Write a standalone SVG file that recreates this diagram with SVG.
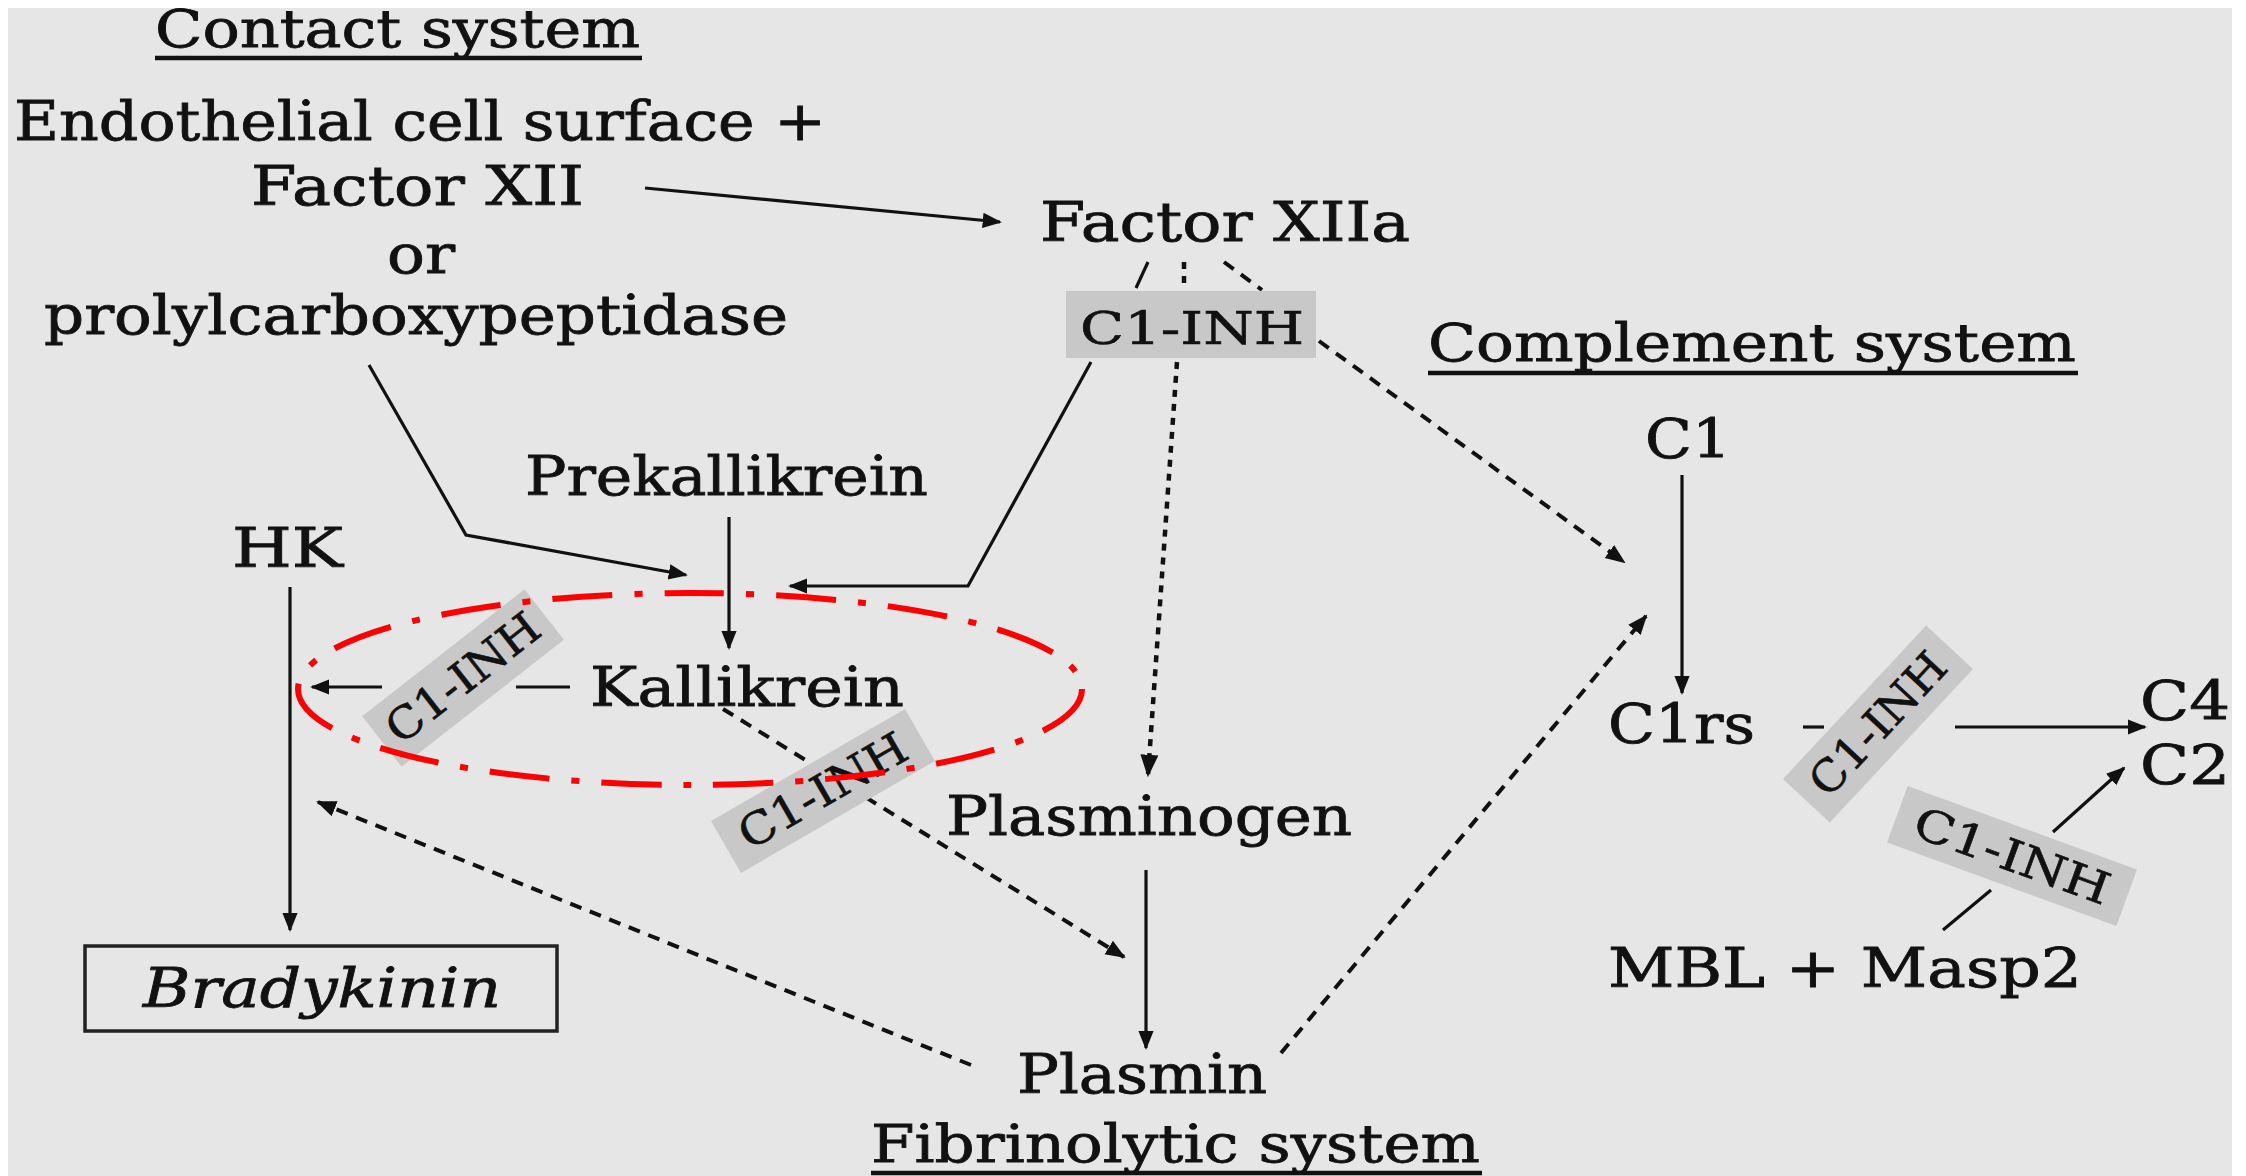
<svg xmlns="http://www.w3.org/2000/svg" width="2246" height="1176" viewBox="0 0 2246 1176">
<style>
.t{font-family:"DejaVu Serif","Liberation Serif",serif;font-size:54px;fill:#111;stroke:#111;stroke-width:0.8}
.h{font-family:"DejaVu Serif","Liberation Serif",serif;font-size:52px;fill:#111;stroke:#111;stroke-width:0.8}
.inh{font-family:"DejaVu Serif","Liberation Serif",serif;font-size:44px;fill:#111;stroke:#111;stroke-width:0.6}
.box{fill:#c8c8c8}
.s{stroke:#111;stroke-width:3.2;fill:none}
.d{stroke:#111;stroke-width:4;fill:none;stroke-dasharray:12 9}
.o{stroke:#111;stroke-width:4.5;fill:none;stroke-dasharray:7 7}
.ul{stroke:#111;stroke-width:4.5}
</style>
<defs>
<marker id="ah" viewBox="0 0 10 10" refX="9" refY="5" markerWidth="6" markerHeight="6" markerUnits="strokeWidth" orient="auto">
<path d="M0,1 L10,5 L0,9 z" fill="#111"/>
</marker>
<marker id="ahd" viewBox="0 0 10 10" refX="9" refY="5" markerWidth="5" markerHeight="5" markerUnits="strokeWidth" orient="auto">
<path d="M0,1 L10,5 L0,9 z" fill="#111"/>
</marker>
</defs>
<rect x="0" y="0" width="2246" height="1176" fill="#ffffff"/>
<rect x="8" y="8" width="2224" height="1168" fill="#e6e6e6"/>

<g id="connectors">
<line class="s" x1="645" y1="188" x2="1000" y2="222" marker-end="url(#ah)"/>
<polyline class="s" points="369,365 466,535 686,575" marker-end="url(#ah)"/>
<polyline class="s" points="1091,362 968,586 790,586" marker-end="url(#ah)"/>
<line class="s" x1="729" y1="517" x2="729" y2="648" marker-end="url(#ah)"/>
<line class="s" x1="290" y1="587" x2="290" y2="930" marker-end="url(#ah)"/>
<line class="s" x1="516" y1="687" x2="570" y2="687"/>
<line class="s" x1="382" y1="687" x2="312" y2="687" marker-end="url(#ah)"/>
<line class="d" x1="723" y1="709" x2="1124" y2="957" marker-end="url(#ahd)"/>
<line class="s" x1="1148" y1="262" x2="1136" y2="288"/>
<line class="o" x1="1184" y1="262" x2="1184" y2="290"/>
<line class="d" x1="1224" y1="262" x2="1262" y2="290"/>
<line class="o" x1="1177" y1="362" x2="1148" y2="775" marker-end="url(#ahd)"/>
<line class="d" x1="1319" y1="341" x2="1624" y2="562" marker-end="url(#ahd)"/>
<line class="s" x1="1146" y1="870" x2="1146" y2="1048" marker-end="url(#ah)"/>
<line class="d" x1="971" y1="1065" x2="318" y2="802" marker-end="url(#ahd)"/>
<line class="d" x1="1281" y1="1053" x2="1646" y2="616" marker-end="url(#ahd)"/>
<line class="s" x1="1682" y1="475" x2="1682" y2="693" marker-end="url(#ah)"/>
<line class="s" x1="1803" y1="727" x2="1824" y2="727"/>
<line class="s" x1="1955" y1="727" x2="2145" y2="727" marker-end="url(#ah)"/>
<line class="s" x1="1943" y1="930" x2="1991" y2="890"/>
<line class="s" x1="2053" y1="832" x2="2124" y2="768" marker-end="url(#ah)"/>
</g>

<g id="contact-title">
<text class="h" x="155" y="47" textLength="485" lengthAdjust="spacingAndGlyphs">Contact system</text>
<line class="ul" x1="155" y1="58" x2="642" y2="58"/>
</g>
<g id="endothelial">
<text class="t" x="14" y="140" textLength="812" lengthAdjust="spacingAndGlyphs">Endothelial cell surface +</text>
<text class="t" x="251" y="205" textLength="333" lengthAdjust="spacingAndGlyphs">Factor XII</text>
<text class="t" x="387" y="273" textLength="68" lengthAdjust="spacingAndGlyphs">or</text>
<text class="t" x="44" y="334" textLength="744" lengthAdjust="spacingAndGlyphs">prolylcarboxypeptidase</text>
</g>
<g id="factor-xiia">
<text class="t" x="1040" y="241" textLength="370" lengthAdjust="spacingAndGlyphs">Factor XIIa</text>
</g>
<g id="inh-top">
<rect class="box" x="1066" y="291" width="250" height="67"/>
<text class="inh" x="1080" y="344" textLength="224" lengthAdjust="spacingAndGlyphs">C1-INH</text>
</g>
<g id="complement-title">
<text class="h" x="1428" y="361" textLength="648" lengthAdjust="spacingAndGlyphs">Complement system</text>
<line class="ul" x1="1428" y1="373" x2="2078" y2="373"/>
</g>
<g id="prekallikrein">
<text class="t" x="525" y="495" textLength="403" lengthAdjust="spacingAndGlyphs">Prekallikrein</text>
</g>
<g id="hk">
<text class="t" x="232" y="567" textLength="111" lengthAdjust="spacingAndGlyphs">HK</text>
</g>
<g id="kallikrein">
<text class="t" x="590" y="706" textLength="314" lengthAdjust="spacingAndGlyphs">Kallikrein</text>
</g>
<g id="inh-left" transform="translate(463,678) rotate(-38)">
<rect class="box" x="-103" y="-32" width="206" height="64"/>
<text class="inh" x="0" y="15" text-anchor="middle" textLength="182" lengthAdjust="spacingAndGlyphs">C1-INH</text>
</g>
<g id="inh-mid" transform="translate(823,791) rotate(-30)">
<rect class="box" x="-112" y="-30" width="224" height="60"/>
<text class="inh" x="0" y="15" text-anchor="middle" textLength="187" lengthAdjust="spacingAndGlyphs">C1-INH</text>
</g>
<g id="bradykinin">
<rect x="85" y="946" width="472" height="85" fill="none" stroke="#222" stroke-width="3.5"/>
<text class="t" x="143" y="1007" font-style="italic" textLength="358" lengthAdjust="spacingAndGlyphs">Bradykinin</text>
</g>
<g id="plasminogen">
<text class="t" x="946" y="835" textLength="406" lengthAdjust="spacingAndGlyphs">Plasminogen</text>
</g>
<g id="plasmin">
<text class="t" x="1017" y="1093" textLength="250" lengthAdjust="spacingAndGlyphs">Plasmin</text>
</g>
<g id="fibrinolytic-title">
<text class="h" x="871" y="1162" textLength="609" lengthAdjust="spacingAndGlyphs">Fibrinolytic system</text>
<line class="ul" x1="871" y1="1173" x2="1482" y2="1173"/>
</g>
<g id="c1">
<text class="t" x="1645" y="458" textLength="86" lengthAdjust="spacingAndGlyphs">C1</text>
</g>
<g id="c1rs">
<text class="t" x="1608" y="743" textLength="147" lengthAdjust="spacingAndGlyphs">C1rs</text>
</g>
<g id="inh-c1rs" transform="translate(1878,724) rotate(-47)">
<rect class="box" x="-105" y="-32" width="210" height="64"/>
<text class="inh" x="0" y="15" text-anchor="middle" textLength="178" lengthAdjust="spacingAndGlyphs">C1-INH</text>
</g>
<g id="c4">
<text class="t" x="2140" y="720" textLength="90" lengthAdjust="spacingAndGlyphs">C4</text>
</g>
<g id="c2">
<text class="t" x="2140" y="784" textLength="90" lengthAdjust="spacingAndGlyphs">C2</text>
</g>
<g id="inh-mbl" transform="translate(2012,856) rotate(20)">
<rect class="box" x="-122" y="-30" width="244" height="60"/>
<text class="inh" x="0" y="15" text-anchor="middle" textLength="205" lengthAdjust="spacingAndGlyphs">C1-INH</text>
</g>
<g id="mbl">
<text class="t" x="1608" y="987" textLength="474" lengthAdjust="spacingAndGlyphs">MBL + Masp2</text>
</g>
<g id="kallikrein-ring">
<ellipse cx="690" cy="689" rx="392" ry="96" fill="none" stroke="#ff0000" stroke-width="6" stroke-dasharray="60 22 8 22"/>
</g>
</svg>
